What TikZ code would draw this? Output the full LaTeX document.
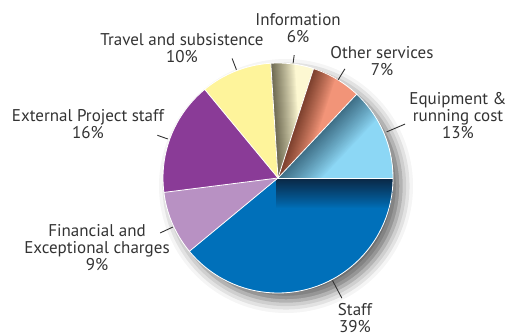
\documentclass[tikz,border=0pt]{standalone}
\usepackage{fontspec}
\setmainfont{PT Sans}
\usetikzlibrary{calc,shadows.blur}
\definecolor{cstaff}{HTML}{0070BA}
\definecolor{cstaffd}{HTML}{0A2744}
\definecolor{cfin}{HTML}{B891C3}
\definecolor{cext}{HTML}{8A3B97}
\definecolor{ctravel}{HTML}{FEF49B}
\definecolor{cinfo}{HTML}{FDF8D2}
\definecolor{cinfod}{HTML}{6E6A52}
\definecolor{cother}{HTML}{F29478}
\definecolor{cotherd}{HTML}{7B3F2C}
\definecolor{cequip}{HTML}{8CD7F5}
\definecolor{cequipd}{HTML}{3E6E86}
\definecolor{ctext}{HTML}{333333}
\tikzset{
  lbl/.style={align=center, text=ctext, font=\fontsize{17}{17}\selectfont, inner sep=0pt},
  leader/.style={draw=ctext, line width=0.9pt},
  sep/.style={draw=white, line width=0.8pt},
}
\newcommand{\slicepath}[2]{(0,0) -- (#1:115) arc[start angle=#1, end angle=#2, radius=115] -- cycle}
% #1 start #2 end #3 boundary angle #4 dark #5 base #6 gradient width
\newcommand{\sliceband}[6]{%
  \begin{scope}
    \clip \slicepath{#1}{#2};
    \begin{scope}[rotate=#3]
      \foreach \i in {0,...,#6} {%
        \pgfmathsetmacro\pct{100*(1-\i/#6)^0.9}%
        \fill[#4!\pct!#5] (-2,-\i) rectangle (130,-#6-2);
      }
      \fill[#5] (-2,-#6) rectangle (130,-#6-40);
    \end{scope}
  \end{scope}}
\begin{document}
\begin{tikzpicture}[x=1pt,y=1pt]
\useasboundingbox (0,0) rectangle (509,335);
\coordinate (C) at (278,157);
\path[fill=white, blur shadow={shadow xshift=8pt, shadow yshift=-8pt, shadow blur radius=12pt, shadow opacity=60}] (C) circle[radius=115];
\begin{scope}[shift={(C)}]
  \fill[cstaff] \slicepath{0}{-140.4};
  \fill[cfin] \slicepath{-140.4}{-172.8};
  \fill[cext] \slicepath{187.2}{129.6};
  \fill[ctravel] \slicepath{129.6}{93.6};
  \fill[cinfo] \slicepath{93.6}{72};
  \fill[cother] \slicepath{72}{46.8};
  \fill[cequip] \slicepath{46.8}{0};
  \sliceband{0}{-140.4}{0}{cstaffd}{cstaff}{30}
  \sliceband{93.6}{72}{93.6}{cinfod}{cinfo}{24}
  \sliceband{72}{46.8}{72}{cotherd}{cother}{24}
  \sliceband{46.8}{0}{46.8}{cequipd}{cequip}{32}
  \foreach \a in {0,-140.4,187.2,129.6,93.6,72,46.8} \draw[sep] (0,0) -- (\a:115);
  \draw[sep] (0,0) circle[radius=115];
  \coordinate (pStaff) at (298:116);  \coordinate (qStaff) at (298:136);
  \coordinate (pFin) at (205:116);    \coordinate (qFin) at (205:130);
  \coordinate (pExt) at (160.5:117);  \coordinate (qExt) at (160.5:128);
  \coordinate (pTrav) at (111:116);   \coordinate (qTrav) at (111:128);
  \coordinate (pInfo) at (82.5:116);  \coordinate (qInfo) at (82.5:124);
  \coordinate (pOther) at (58.5:115); \coordinate (qOther) at (58.5:128);
  \coordinate (pEquip) at (23:118);   \coordinate (qEquip) at (23:138);
\end{scope}
\draw[leader] (pStaff) -- (qStaff);
\draw[leader] (pFin) -- (qFin);
\draw[leader] (pExt) -- (qExt);
\draw[leader] (pTrav) -- (qTrav);
\draw[leader] (pInfo) -- (qInfo);
\draw[leader] (pOther) -- (qOther);
\draw[leader] (pEquip) -- (qEquip);
\node[lbl] (lInfo) at (298,307) {Information\\6\%};
\node[lbl] (lTrav) at (182,287) {Travel and subsistence\\10\%};
\node[lbl] (lOther) at (382,274) {Other services\\7\%};
\node[lbl] (lEquip) at (458,219) {Equipment \&\\running cost\\13\%};
\node[lbl] (lExt) at (88,211) {External Project staff\\16\%};
\node[lbl] (lFin) at (97,87) {Financial and\\Exceptional charges\\9\%};
\node[lbl] (lStaff) at (355,17) {Staff\\39\%};
\end{tikzpicture}
\end{document}
